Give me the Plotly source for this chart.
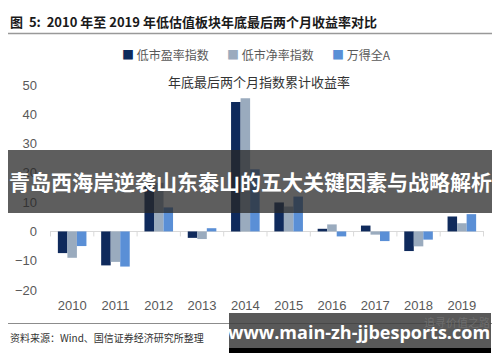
import plotly.graph_objects as go

years = ["2010", "2011", "2012", "2013", "2014", "2015", "2016", "2017", "2018", "2019"]
low_pe = [-7.4, -11.6, 16.2, -2.2, 44.2, 9.9, 0.9, 2.0, -6.7, 5.1]
low_pb = [-9.0, -10.4, 16.6, -2.6, 45.5, 8.5, 2.4, -1.1, -5.1, 2.8]
wind_a = [-5.0, -12.0, 8.2, 1.1, 21.2, 11.9, -1.7, -3.3, -2.8, 5.9]
series_names = ["低市盈率指数", "低市净率指数", "万得全A"]
colors = ["#0f2a5c", "#9aabbe", "#5a8fd6"]
y_ticks = [-20, -10, 0, 10, 20, 30, 40, 50]

# the page body has an 8px margin, so the figure is placed at (8, 8)
OFF = 8
W, H = 500 - OFF, 362 - OFF
def px(x):
    return (x - OFF) / W
def py(y):
    return 1 - (y - OFF) / H

fig = go.Figure()
for name, vals, c in zip(series_names, [low_pe, low_pb, wind_a], colors):
    fig.add_trace(go.Bar(x=years, y=vals, name=name, marker=dict(color=c, line=dict(width=0)),
                         showlegend=False))

tick_font = dict(family="Liberation Sans, Arial, sans-serif", size=13, color="#595959")
cjk = "Noto Sans CJK SC, sans-serif"

fig.update_layout(
    width=W, height=H,
    margin=dict(l=0, r=0, t=0, b=0, pad=0),
    paper_bgcolor="white", plot_bgcolor="white",
    barmode="group", bargap=0.34, bargroupgap=0,
    xaxis=dict(type="category", domain=[px(50), px(484)], showgrid=False, showline=False,
               zeroline=False, ticks="", tickfont=tick_font, automargin=False,
               ticklabelstandoff=6, tickangle=0),
    yaxis=dict(domain=[py(290), py(85)], range=[-20, 50], tickvals=y_ticks,
               showgrid=False, showline=False, zeroline=True, zerolinecolor="#d9d9d9",
               zerolinewidth=1, ticks="", tickfont=tick_font, automargin=False,
               ticklabelstandoff=12),
)

shapes = []
# boundary ticks on zero line
for i in range(len(years) + 1):
    shapes.append(dict(type="line", xref="x", yref="y", x0=i - 0.5, x1=i - 0.5,
                       ysizemode="pixel", yanchor=0, y0=0, y1=-5,
                       line=dict(color="#d9d9d9", width=1)))
# title underline
shapes.append(dict(type="line", xref="paper", yref="paper", x0=0, x1=1, y0=py(33.5), y1=py(33.5),
                   line=dict(color="#999999", width=1.5)))
# source line
shapes.append(dict(type="line", xref="paper", yref="paper", x0=0, x1=1, y0=py(323.5), y1=py(323.5),
                   line=dict(color="#8c8c8c", width=1)))
# banner overlay
shapes.append(dict(type="rect", xref="paper", yref="paper", x0=px(8), x1=px(492), y0=py(213), y1=py(150),
                   fillcolor="rgba(40,40,40,0.75)", line=dict(width=0), layer="above"))
# watermark box
shapes.append(dict(type="rect", xref="paper", yref="paper", x0=px(229), x1=px(491), y0=py(348), y1=py(313),
                   fillcolor="rgba(60,60,60,0.85)", line=dict(width=0), layer="above"))
shapes.append(dict(type="rect", xref="paper", yref="paper", x0=px(229), x1=px(491), y0=py(353), y1=py(348),
                   fillcolor="#000000", line=dict(width=0), layer="above"))
fig.update_layout(shapes=shapes)

def note(text, x, y, xanchor, size, color, family=cjk):
    return dict(text=text, x=px(x), y=py(y), xref="paper", yref="paper", xanchor=xanchor,
                yanchor="middle", showarrow=False, font=dict(family=family, size=size, color=color))

ann = []
ann.append(note("<b>图  5:  2010 年至 2019 年低估值板块年底最后两个月收益率对比</b>", 8, 22, "left", 13, "#1a1a1a"))
# legend
leg_x = [120, 225, 330]
for name, c, lx in zip(series_names, colors, leg_x):
    ann.append(note(f"<span style='color:{c}'>■</span> {name}", lx, 55, "left", 12, "#595959"))
ann.append(note("年底最后两个月指数累计收益率", 259, 82, "center", 13, "#333333"))
ann.append(note("资料来源：Wind、国信证券经济研究所整理", 8, 337, "left", 10, "#333333"))
ann.append(note("追寻价值之路", 492, 322, "right", 11, "rgba(120,120,120,0.7)"))
ann.append(note("<b>青岛西海岸逆袭山东泰山的五大关键因素与战略解析</b>", 250, 181, "center", 21, "white"))
ann.append(note("<b>www.main-zh-jjbesports.com</b>", 359, 332, "center", 18, "white",
                family="Open Sans, Noto Sans, sans-serif"))
fig.update_layout(annotations=ann)

fig.write_html("out.html")
